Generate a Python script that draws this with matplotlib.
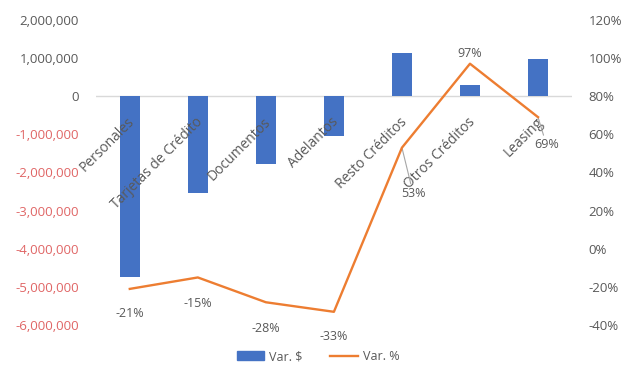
import matplotlib
matplotlib.use("Agg")
import matplotlib.pyplot as plt
from matplotlib.ticker import FuncFormatter, MultipleLocator

plt.rcParams['font.family'] = ['Open Sans', 'DejaVu Sans']

categories = ["Personales", "Tarjetas de Crédito", "Documentos", "Adelantos",
              "Resto Créditos", "Otros Créditos", "Leasing"]
var_amount = [-4730000, -2530000, -1780000, -1050000, 1120000, 280000, 970000]
var_pct = [-21, -15, -28, -33, 53, 97, 69]
pct_labels = ["-21%", "-15%", "-28%", "-33%", "53%", "97%", "69%"]

bar_color = "#4472C4"
line_color = "#ED7D31"
text_gray = "#595959"
neg_red = "#E06666"

fig = plt.figure(figsize=(6.3, 3.67), dpi=100)
ax = fig.add_axes([0.152, 0.114, 0.756, 0.832])
ax2 = ax.twinx()

x = list(range(len(categories)))
ax.bar(x, var_amount, width=0.3, color=bar_color, zorder=2)
ax.axhline(0, color="#D9D9D9", lw=1, zorder=1)
ax.set_xlim(-0.5, len(categories) - 0.5)
ax.set_ylim(-6000000, 2000000)
ax.yaxis.set_major_locator(MultipleLocator(1000000))
ax.yaxis.set_major_formatter(FuncFormatter(lambda v, p: f"{v:,.0f}"))
ax.set_xticks([])
ax.tick_params(axis='y', length=0, pad=12, labelsize=9.5)
fig.canvas.draw()
for lbl, v in zip(ax.get_yticklabels(), ax.get_yticks()):
    lbl.set_color(neg_red if v < 0 else text_gray)

# category names drawn diagonally next to the zero line
for i, name in enumerate(categories):
    ax.text(i + 0.04, -620000, name, rotation=45, ha='right', va='center',
            rotation_mode='anchor', fontsize=10, color=text_gray, zorder=3)

ax2.plot(x, var_pct, color=line_color, lw=1.7, zorder=4)
ax2.set_ylim(-40, 120)
ax2.yaxis.set_major_locator(MultipleLocator(20))
ax2.yaxis.set_major_formatter(FuncFormatter(lambda v, p: f"{v:.0f}%"))
ax2.tick_params(axis='y', length=0, pad=12, labelsize=9.5, labelcolor=text_gray)

for sp in list(ax.spines.values()) + list(ax2.spines.values()):
    sp.set_visible(False)

# value labels for the percentage line (offsets in points)
offsets = [(0, -13), (0, -14), (0, -14), (0, -13), (8, -28), (0, 3), (6, -15)]
for i, (v, t) in enumerate(zip(var_pct, pct_labels)):
    dx, dy = offsets[i]
    va = 'bottom' if dy > 0 else 'top'
    if i in (4, 6):
        ax2.annotate(t, xy=(i, v), xytext=(dx, dy), textcoords='offset points',
                     ha='center', va='top', fontsize=9, color=text_gray,
                     arrowprops=dict(arrowstyle='-', color='#A6A6A6', lw=0.8,
                                     shrinkA=0, shrinkB=0))
    else:
        ax2.annotate(t, xy=(i, v), xytext=(dx, dy), textcoords='offset points',
                     ha='center', va=va, fontsize=9, color=text_gray)

handles = [plt.Rectangle((0, 0), 1, 1, color=bar_color),
           plt.Line2D([0], [0], color=line_color, lw=1.7)]
fig.legend(handles, ["Var. $", "Var. %"], loc='lower center', ncol=2,
           frameon=False, fontsize=9, bbox_to_anchor=(0.505, -0.02),
           handlelength=2.2, handletextpad=0.4, columnspacing=2.2,
           labelcolor=text_gray)

fig.savefig("out.png", dpi=100)
